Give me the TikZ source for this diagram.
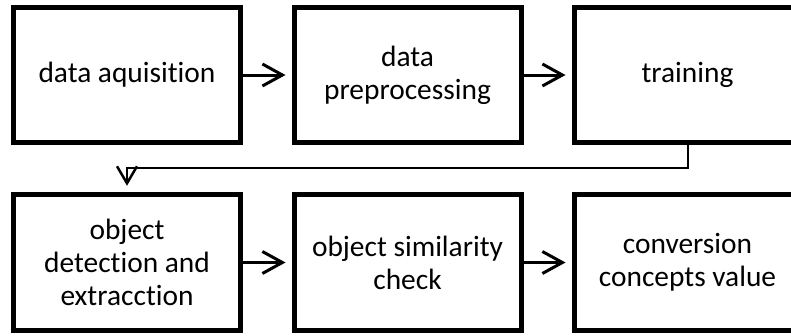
\documentclass[tikz,border=0pt]{standalone}
\usepackage{fontspec}
\setmainfont{Carlito}[Ligatures={NoCommon,NoContextual}]
\usetikzlibrary{arrows.meta}
\begin{document}
\begin{tikzpicture}[x=1pt,y=-1pt,
  stage/.style={draw=black,line width=5pt,minimum width=227pt,minimum height=135.5pt,
    inner sep=0pt,align=center,font={\fontsize{29.4}{33}\selectfont}},
  flow/.style={line width=3pt,-{Straight Barb[length=20pt,width=22pt,line width=3pt]},shorten >=6pt},
  loopback/.style={line width=2pt,-{Straight Barb[length=17pt,width=20pt,line width=2.5pt]},shorten >=6.5pt}]
  \useasboundingbox (0,0) rectangle (791,335);
  % top row
  \node[stage] (acq)   at (127,75)   {data aquisition};
  \node[stage] (prep)  at (407.5,75) {data\\preprocessing};
  \node[stage] (train) at (687.5,75) {training};
  % bottom row
  \node[stage] (det)   at (127,262.5)   {object\\detection and\\extracction};
  \node[stage] (sim)   at (407.5,262.5) {object similarity\\check};
  \node[stage] (conv)  at (687.5,262.5) {conversion\\concepts value};
  % connectors
  \draw[flow] (acq) -- (prep);
  \draw[flow] (prep) -- (train);
  \draw[flow] (det) -- (sim);
  \draw[flow] (sim) -- (conv);
  \coordinate (turn) at (127,168.3);
  \draw[loopback] (train.south) |- (turn) -- (det.north);
\end{tikzpicture}
\end{document}
